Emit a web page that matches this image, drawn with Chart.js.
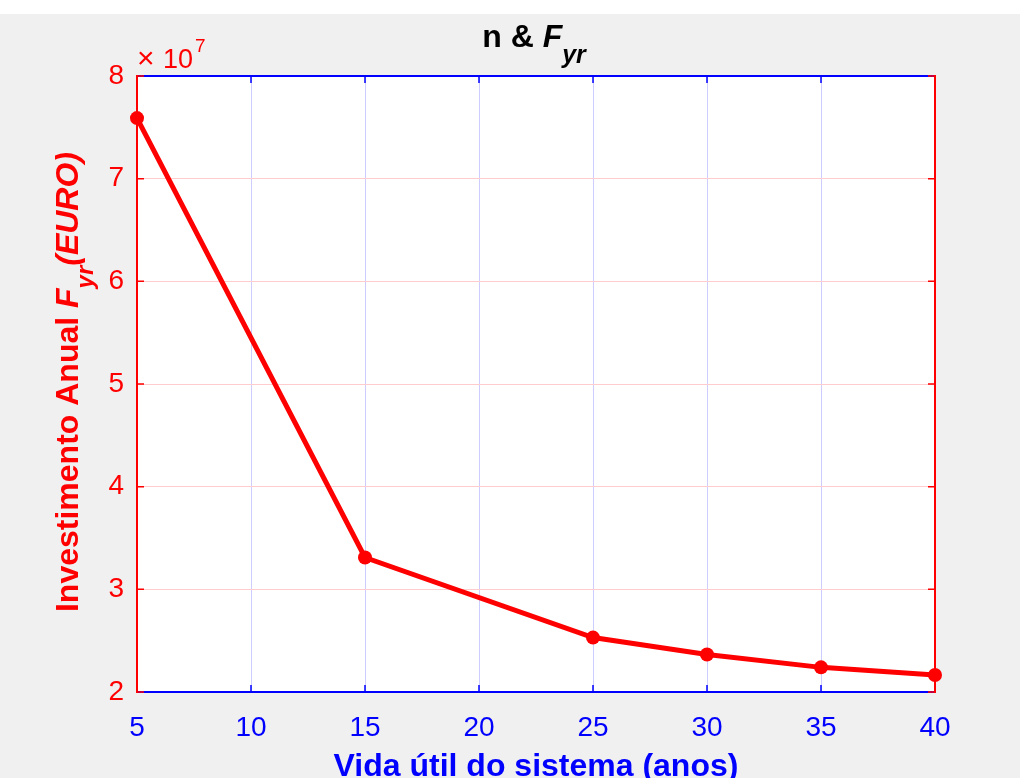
<!DOCTYPE html>
<html>
<head>
<meta charset="utf-8">
<script src="https://cdn.jsdelivr.net/npm/chart.js@4.4.1/dist/chart.umd.min.js"></script>
<style>
  html, body { margin: 0; padding: 0; background: #ffffff; }
  #wrap { width: 1020px; height: 778px; position: relative; }
  canvas { display: block; }
</style>
</head>
<body>
<div id="wrap"><canvas id="c" width="1020" height="778"></canvas></div>
<script>
// ---- data ----
const years = [5, 15, 25, 30, 35, 40];
const annualInvestment = [7.59e7, 3.31e7, 2.53e7, 2.365e7, 2.24e7, 2.165e7];
const xTicks = [5, 10, 15, 20, 25, 30, 35, 40];
const yTicks = [2e7, 3e7, 4e7, 5e7, 6e7, 7e7, 8e7];

const titleMain = 'n & ';
const titleVar = 'F';
const titleSub = 'yr';
const yLabelMain = 'Investimento Anual ';
const yLabelVar = 'F';
const yLabelSub = 'yr';
const yLabelUnit = '(EURO)';
const xLabel = 'Vida útil do sistema (anos)';

const RED = '#ff0000';
const BLUE = '#0000ff';
const FONT = '"Liberation Sans", Arial, Helvetica, sans-serif';

const decor = {
  id: 'decor',
  beforeDraw(chart) {
    const ctx = chart.ctx;
    const a = chart.chartArea;
    ctx.save();
    ctx.fillStyle = '#ffffff';
    ctx.fillRect(0, 0, chart.width, chart.height);
    ctx.fillStyle = '#f0f0f0';
    ctx.fillRect(0, 14, chart.width, chart.height - 14);
    ctx.fillStyle = '#ffffff';
    ctx.fillRect(a.left, a.top, a.right - a.left, a.bottom - a.top);
    ctx.restore();
  },
  beforeDatasetsDraw(chart) {
    const ctx = chart.ctx;
    const a = chart.chartArea;
    const xs = chart.scales.x, ys = chart.scales.y;
    ctx.save();
    ctx.lineWidth = 2;
    ctx.strokeStyle = BLUE;
    ctx.beginPath();
    ctx.moveTo(a.left, a.top); ctx.lineTo(a.right, a.top);
    ctx.moveTo(a.left, a.bottom); ctx.lineTo(a.right, a.bottom);
    ctx.stroke();
    ctx.lineWidth = 1.5;
    ctx.beginPath();
    xTicks.forEach(v => {
      const px = xs.getPixelForValue(v);
      ctx.moveTo(px, a.bottom); ctx.lineTo(px, a.bottom - 7);
      ctx.moveTo(px, a.top); ctx.lineTo(px, a.top + 7);
    });
    ctx.stroke();
    ctx.lineWidth = 2;
    ctx.strokeStyle = RED;
    ctx.beginPath();
    ctx.moveTo(a.left, a.top - 1); ctx.lineTo(a.left, a.bottom + 1);
    ctx.moveTo(a.right, a.top - 1); ctx.lineTo(a.right, a.bottom + 1);
    ctx.stroke();
    ctx.lineWidth = 1.5;
    ctx.beginPath();
    yTicks.forEach(v => {
      const py = ys.getPixelForValue(v);
      ctx.moveTo(a.left, py); ctx.lineTo(a.left + 7, py);
      ctx.moveTo(a.right, py); ctx.lineTo(a.right - 7, py);
    });
    ctx.stroke();
    ctx.restore();
  },
  afterDraw(chart) {
    const ctx = chart.ctx;
    const a = chart.chartArea;
    const cx = (a.left + a.right) / 2;
    ctx.save();
    ctx.textBaseline = 'alphabetic';
    ctx.textAlign = 'left';

    // Title
    const fMain = 'bold 32px ' + FONT;
    const fVar = 'italic bold 32px ' + FONT;
    const fSub = 'italic bold 25px ' + FONT;
    ctx.font = fMain; const w1 = ctx.measureText(titleMain).width;
    ctx.font = fVar; const w2 = ctx.measureText(titleVar).width;
    ctx.font = fSub; const w3 = ctx.measureText(titleSub).width;
    let tx = cx - (w1 + w2 + w3) / 2 - 2;
    ctx.fillStyle = '#000000';
    ctx.font = fMain; ctx.fillText(titleMain, tx, 47); tx += w1;
    ctx.font = fVar; ctx.fillText(titleVar, tx, 47); tx += w2;
    ctx.font = fSub; ctx.fillText(titleSub, tx, 63);

    // Exponent label
    ctx.fillStyle = RED;
    ctx.font = '30px ' + FONT;
    ctx.fillText('\u00d7', a.left, 68);
    ctx.font = '27px ' + FONT;
    ctx.fillText('10', a.left + 26, 68);
    ctx.font = '19px ' + FONT;
    ctx.fillText('7', a.left + 58, 52);

    // X label
    ctx.fillStyle = BLUE;
    ctx.font = 'bold 32px ' + FONT;
    ctx.textAlign = 'center';
    ctx.fillText(xLabel, cx, 776);

    // Y label (rotated)
    ctx.textAlign = 'left';
    const cy = 382;
    const yf1 = 'bold 32px ' + FONT;
    const yf2 = 'italic bold 32px ' + FONT;
    const yf3 = 'italic bold 24px ' + FONT;
    ctx.font = yf1; const v1 = ctx.measureText(yLabelMain).width;
    ctx.font = yf2; const v2 = ctx.measureText(yLabelVar).width;
    ctx.font = yf3; const v3 = ctx.measureText(yLabelSub).width;
    ctx.font = yf2; const v4 = ctx.measureText(yLabelUnit).width;
    ctx.translate(78, cy);
    ctx.rotate(-Math.PI / 2);
    ctx.fillStyle = RED;
    let lx = -(v1 + v2 + v3 + v4) / 2;
    ctx.font = yf1; ctx.fillText(yLabelMain, lx, 0); lx += v1;
    ctx.font = yf2; ctx.fillText(yLabelVar, lx, 0); lx += v2;
    ctx.font = yf3; ctx.fillText(yLabelSub, lx, 15); lx += v3;
    ctx.font = yf2; ctx.fillText(yLabelUnit, lx, 0);
    ctx.restore();
  }
};

new Chart(document.getElementById('c'), {
  type: 'line',
  data: {
    datasets: [{
      data: years.map((x, i) => ({ x: x, y: annualInvestment[i] })),
      borderColor: RED,
      backgroundColor: RED,
      borderWidth: 5,
      pointRadius: 7,
      pointHoverRadius: 7,
      pointBackgroundColor: RED,
      pointBorderColor: RED,
      pointBorderWidth: 0,
      tension: 0,
      clip: false
    }]
  },
  options: {
    responsive: false,
    animation: false,
    events: [],
    layout: { padding: { left: 0, right: 85, top: 76, bottom: 0 } },
    plugins: { legend: { display: false }, tooltip: { enabled: false }, title: { display: false } },
    scales: {
      x: {
        type: 'linear',
        min: 5, max: 40,
        afterFit(s) { s.height = 86; },
        afterBuildTicks(s) { s.ticks = xTicks.map(v => ({ value: v })); },
        ticks: { color: BLUE, font: { family: FONT, size: 28 }, padding: 19, maxRotation: 0 },
        grid: { color: '#cdcdff', lineWidth: 1, drawTicks: false },
        border: { display: false }
      },
      y: {
        type: 'linear',
        min: 2e7, max: 8e7,
        afterFit(s) { s.width = 137; },
        afterBuildTicks(s) { s.ticks = yTicks.map(v => ({ value: v })); },
        ticks: { color: RED, font: { family: FONT, size: 28 }, padding: 13,
                 callback: v => String(Math.round(v / 1e7)) },
        grid: { color: '#ffcdcd', lineWidth: 1, drawTicks: false },
        border: { display: false }
      }
    }
  },
  plugins: [decor]
});
</script>
</body>
</html>
